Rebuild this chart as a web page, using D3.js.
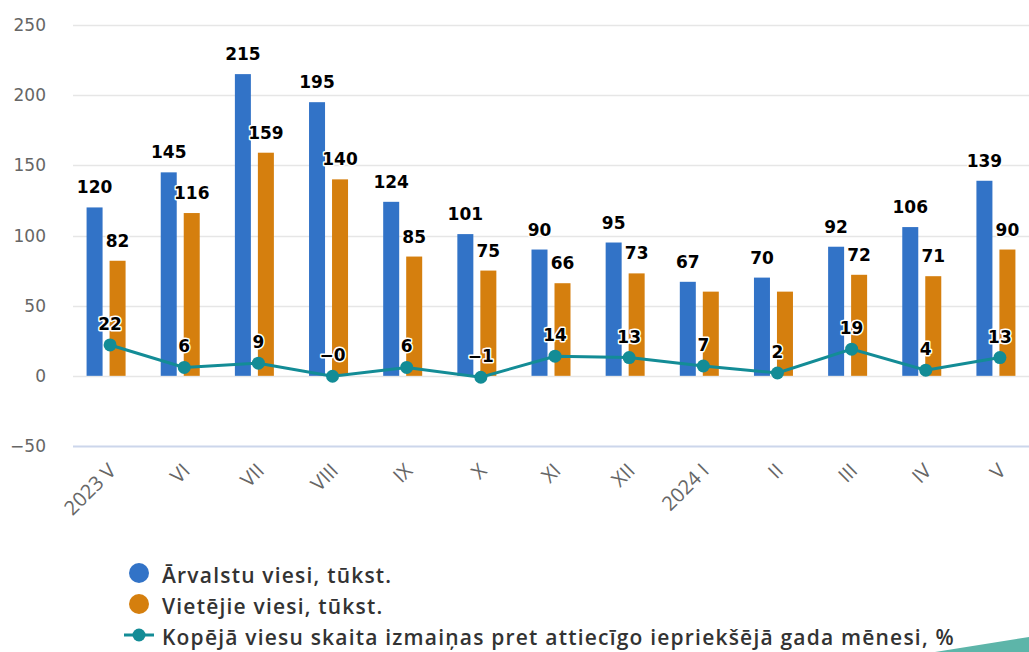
<!DOCTYPE html>
<html>
<head>
<meta charset="utf-8">
<script src="https://cdn.jsdelivr.net/npm/d3@7"></script>
<style>
  body { margin: 0; background: #fff; }
  svg { display: block; }
</style>
</head>
<body>
<div id="chart"></div>
<script>
// Categories (months)
const months = ["2023 V", "VI", "VII", "VIII", "IX", "X", "XI", "XII", "2024 I", "II", "III", "IV", "V"];
// Foreign guests, thousands
const foreignGuests = [120, 145, 215, 195, 124, 101, 90, 95, 67, 70, 92, 106, 139];
// Local guests, thousands
const localGuests = [82, 116, 159, 140, 85, 75, 66, 73, 60, 60, 72, 71, 90];
// Change vs same month previous year, %
const totalChange = [22, 6, 9, -0.3, 6, -1, 14, 13, 7, 2, 19, 4, 13];
// whether the orange label is shown
const localLabelShown = [true, true, true, true, true, true, true, true, false, false, true, true, true];
const yTicks = [-50, 0, 50, 100, 150, 200, 250];
const legendNames = ["Ārvalstu viesi, tūkst.", "Vietējie viesi, tūkst.", "Kopējā viesu skaita izmaiņas pret attiecīgo iepriekšējā gada mēnesi, %"];

const blue = "#3273c7", orange = "#d57f0e", teal = "#138c96";

var width = 1029, height = 652;

var svg = d3.select("#chart").append("svg")
    .attr("width", width)
    .attr("height", height);

var x = d3.scaleBand()
    .domain(months)
    .range([73, 1037]);

var y = d3.scaleLinear()
    .domain([-50, 250])
    .range([446, 25]);

// gridlines
svg.append("g").selectAll("line")
    .data(yTicks)
    .join("line")
    .attr("x1", 73)
    .attr("x2", width)
    .attr("y1", d => Math.round(y(d)) + 0.5)
    .attr("y2", d => Math.round(y(d)) + 0.5)
    .attr("stroke", d => d === -50 ? "#ccd6eb" : "#e6e6e6")
    .attr("stroke-width", d => d === -50 ? 2 : 1.5);

// y labels
svg.append("g").selectAll("text")
    .data(yTicks)
    .join("text")
    .attr("x", 46)
    .attr("y", d => y(d) + 6)
    .attr("text-anchor", "end")
    .style("font", "17px 'DejaVu Sans', sans-serif")
    .style("fill", "#666")
    .text(d => d < 0 ? "\u2212" + Math.abs(d) : d);

// x labels, rotated
svg.append("g").selectAll("text")
    .data(months)
    .join("text")
    .attr("transform", d => "translate(" + (x(d) + x.bandwidth() / 2 + 7) + ",472) rotate(-45)")
    .attr("text-anchor", "end")
    .style("font", "20px 'Open Sans', sans-serif")
    .style("fill", "#666")
    .text(d => d);

var barW = 16, gap = 7;

// bars
var bars = svg.append("g");
bars.selectAll(".foreign")
    .data(foreignGuests)
    .join("rect")
    .attr("x", (d, i) => x(months[i]) + x.bandwidth() / 2 - gap / 2 - barW - 4)
    .attr("y", d => y(d))
    .attr("width", barW)
    .attr("height", d => y(0) - y(d))
    .attr("fill", blue);

bars.selectAll(".local")
    .data(localGuests)
    .join("rect")
    .attr("x", (d, i) => x(months[i]) + x.bandwidth() / 2 + gap / 2 - 4)
    .attr("y", d => y(d))
    .attr("width", barW)
    .attr("height", d => y(0) - y(d))
    .attr("fill", orange);

// line
var cx = (d, i) => x(months[i]) + x.bandwidth() / 2;
var line = d3.line()
    .x(cx)
    .y(d => y(d));

svg.append("path")
    .datum(totalChange)
    .attr("d", line)
    .attr("fill", "none")
    .attr("stroke", teal)
    .attr("stroke-width", 3);

svg.append("g").selectAll("circle")
    .data(totalChange)
    .join("circle")
    .attr("cx", cx)
    .attr("cy", d => y(d))
    .attr("r", 6.5)
    .attr("fill", teal);

// data labels with white outline
function addLabel(g, tx, ty, txt) {
    g.append("text")
        .attr("x", tx).attr("y", ty)
        .attr("text-anchor", "middle")
        .style("font", "bold 17px 'DejaVu Sans', sans-serif")
        .style("fill", "#000")
        .style("stroke", "#fff")
        .style("stroke-width", 3)
        .style("stroke-linejoin", "round")
        .style("paint-order", "stroke")
        .text(txt);
}

var labels = svg.append("g");
foreignGuests.forEach(function(d, i) {
    var bx = x(months[i]) + x.bandwidth() / 2 - gap / 2 - barW / 2 - 4;
    addLabel(labels, bx, y(d) - 14, d);
});
localGuests.forEach(function(d, i) {
    if (!localLabelShown[i]) return;
    var bx = x(months[i]) + x.bandwidth() / 2 + gap / 2 + barW / 2 - 4;
    addLabel(labels, bx, y(d) - 14, d);
});
totalChange.forEach(function(d, i) {
    var r = Math.round(d);
    var t = (d < 0 ? "\u2212" : "") + Math.abs(r);
    addLabel(labels, cx(d, i), y(d) - 15, t);
});

// legend
var legend = svg.append("g");
var ly = [573, 604, 635];
legendNames.forEach(function(name, i) {
    if (i < 2) {
        legend.append("circle")
            .attr("cx", 139).attr("cy", ly[i])
            .attr("r", 10)
            .attr("fill", i === 0 ? blue : orange);
    } else {
        legend.append("line")
            .attr("x1", 124).attr("x2", 154)
            .attr("y1", ly[i]).attr("y2", ly[i])
            .attr("stroke", teal).attr("stroke-width", 3);
        legend.append("circle")
            .attr("cx", 139).attr("cy", ly[i])
            .attr("r", 6.5).attr("fill", teal);
    }
    legend.append("text")
        .attr("x", 162).attr("y", ly[i] + 10)
        .style("font", "600 21px 'Open Sans', sans-serif")
        .style("letter-spacing", "1.2px")
        .style("fill", "#333")
        .text(name);
});

// decorative corner
svg.append("polygon")
    .attr("points", "935,652 1029,637 1029,652")
    .attr("fill", "#5db5a9");
</script>
</body>
</html>
